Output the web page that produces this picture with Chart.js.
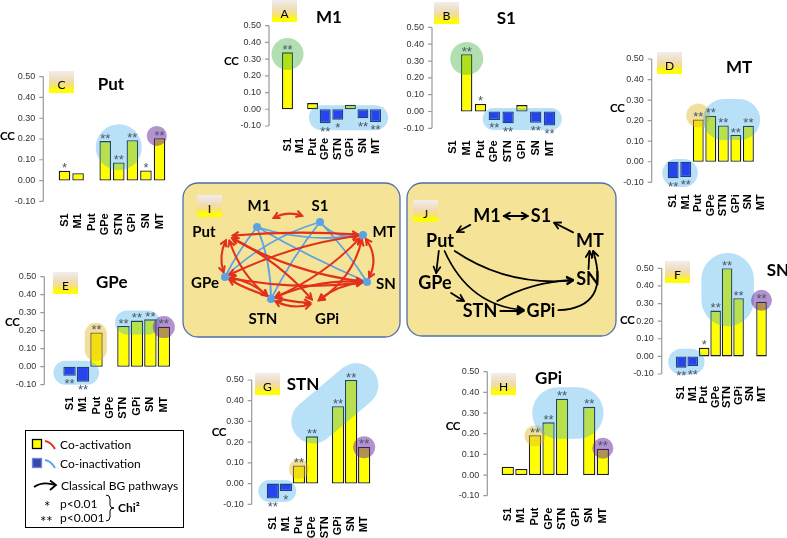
<!DOCTYPE html>
<html>
<head>
<meta charset="utf-8">
<title>Co-activation between BG regions</title>
<script src="https://cdn.jsdelivr.net/npm/chart.js@4.4.1/dist/chart.umd.min.js"></script>
<style>
  body { margin: 0; background: #fff; }
  #fig { position: relative; width: 787px; height: 538px; overflow: hidden; background: #fff;
         font-family: Lato, "Liberation Sans", sans-serif; }
  #fig canvas { position: absolute; left: 0; top: 0; }
  .title { position: absolute; font-weight: bold; font-size: 17px; line-height: 20px; white-space: nowrap; }
  .cc { position: absolute; font-weight: bold; font-size: 11.5px; line-height: 14px; letter-spacing: -0.3px; }
  .tag { position: absolute; width: 25px; height: 22px; font-size: 12px; line-height: 27px; text-align: center;
         background: linear-gradient(#f1eded 0%, #efdcb4 45%, #f9e65c 72%, #ffff00 86%); }
</style>
</head>
<body>
<div id="fig"></div>
<script>
const categories = ['S1', 'M1', 'Put', 'GPe', 'STN', 'GPi', 'SN', 'MT'];
const yTicks = [-0.1, 0, 0.1, 0.2, 0.3, 0.4, 0.5];

// CC of each seed region with the others (null = the seed itself)
const ccM1  = [0.34, null, 0.037, -0.083, -0.062, 0.027, -0.054, -0.076];
const ccS1  = [null, 0.34, 0.045, -0.05, -0.07, 0.038, -0.067, -0.084];
const ccPut = [0.047, 0.035, null, 0.19, 0.087, 0.194, 0.048, 0.204];
const ccMT  = [-0.08, -0.074, 0.206, 0.223, 0.177, 0.13, 0.175, null];
const ccGPe = [-0.05, -0.083, 0.19, null, 0.226, 0.256, 0.263, 0.222];
const ccSN  = [-0.064, -0.055, 0.049, 0.26, 0.50, 0.33, null, 0.31];
const ccSTN = [-0.072, -0.036, 0.087, 0.228, null, 0.373, 0.50, 0.177];
const ccGPi = [0.04, 0.029, 0.193, 0.255, 0.369, null, 0.33, 0.127];

// Chi2 significance: '*' p<0.01, '**' p<0.001
const sigM1  = ['**', '', '', '**', '*', '', '**', '**'];
const sigS1  = ['', '**', '*', '**', '**', '', '**', '**'];
const sigPut = ['*', '', '', '**', '**', '**', '*', '**'];
const sigMT  = ['**', '**', '**', '**', '**', '**', '**', ''];
const sigGPe = ['**', '**', '**', '', '**', '**', '**', '**'];
const sigSN  = ['**', '**', '*', '**', '**', '**', '', '**'];
const sigSTN = ['**', '*', '**', '**', '', '**', '**', '**'];
const sigGPi = ['', '', '**', '**', '**', '', '**', '**'];

// network panels (node positions inside each panel, px)
const netNodes = ['M1', 'S1', 'Put', 'MT', 'GPe', 'SN', 'STN', 'GPi'];
const netILabelX = [76, 137, 21, 201, 22, 203, 80, 144];
const netILabelY = [23, 23, 49, 49, 100, 101, 136, 136];
const netIAnchorX = [74, 137, 45, 180, 42, 184, 88, 132];
const netIAnchorY = [44, 39, 53, 52, 94, 99, 116, 120];
const coInactivation = [['M1', 'GPe', 0.05], ['M1', 'STN', -0.1], ['M1', 'SN', 0.03], ['M1', 'MT', 0.12],
                        ['S1', 'GPe', 0.12], ['S1', 'STN', 0.05], ['S1', 'SN', -0.05], ['S1', 'MT', 0.3]];
const coActivation = [['Put', 'MT', -0.04], ['Put', 'GPe', 0.2], ['Put', 'STN', 0.15], ['Put', 'GPi', -0.1],
                      ['Put', 'SN', 0.1], ['GPe', 'STN', -0.15], ['GPe', 'GPi', 0.12], ['GPe', 'SN', 0.08],
                      ['GPe', 'MT', -0.08], ['STN', 'GPi', 0.2], ['STN', 'SN', -0.12], ['STN', 'MT', 0.1],
                      ['GPi', 'SN', -0.15], ['GPi', 'MT', 0.2], ['SN', 'MT', 0.3]];
const netJLabelX = [80, 134, 33, 183, 28, 181, 73, 134];
const netJLabelY = [33, 33, 58, 58, 100, 96, 128, 128];
const classicalPaths = [['M1', 'S1', 0, 2], ['M1', 'Put', 0, 1], ['MT', 'S1', 0, 1], ['Put', 'GPe', 0, 1],
                        ['Put', 'SN', 0.18, 1], ['Put', 'GPi', 0.3, 1], ['GPe', 'STN', 0, 1], ['STN', 'GPi', 0, 1],
                        ['STN', 'SN', -0.12, 1], ['SN', 'MT', 0, 1], ['GPi', 'MT', 0.65, 1]];

const W = 787, H = 538;
const YELLOW = '#ffff00', BLUE = '#2616f2';
const HL = { blue: 'rgba(40,160,230,0.33)', green: 'rgba(60,175,60,0.4)',
             purple: 'rgba(100,40,160,0.5)', gold: 'rgba(225,185,40,0.45)' };
const fig = document.getElementById('fig');
Chart.defaults.font.family = '"Liberation Sans", Arial, sans-serif';
Chart.defaults.animation = false;

function newCanvas() {
  const c = document.createElement('canvas');
  c.width = W; c.height = H;
  fig.appendChild(c);
  return c;
}
function addDiv(cls, text, left, top) {
  const d = document.createElement('div');
  d.className = cls; d.textContent = text;
  d.style.left = left + 'px'; d.style.top = top + 'px';
  fig.appendChild(d);
}

// layout of the eight bar panels
const panels = [
  { tag: 'A', title: 'M1', values: ccM1, sig: sigM1, axisX: 269, cat: [281.2, 381.8], y: [10, 126], bar: 0.87,
    titleAt: [316, 6.5], ccAt: [224, 54], tagAt: [272, 0],
    marks: [{ c: 'green', r: 16, p: [[0, 0.33]] }, { c: 'blue', r: 12.5, p: [[2.7, -0.05], [7, -0.05]] }] },
  { tag: 'B', title: 'S1', values: ccS1, sig: sigS1, axisX: 432, cat: [446, 556.4], y: [9.3, 128.3], bar: 0.82,
    titleAt: [496.7, 8], ccAt: null, tagAt: [434, 2],
    marks: [{ c: 'green', r: 16.5, p: [[1, 0.315]] }, { c: 'blue', r: 11, p: [[2.95, -0.044], [7.1, -0.044]] }] },
  { tag: 'C', title: 'Put', values: ccPut, sig: sigPut, axisX: 43.3, cat: [57.7, 166.3], y: [76.7, 201.3], bar: 0.85,
    titleAt: [97.7, 74], ccAt: [0, 128.6], tagAt: [49, 71],
    marks: [{ c: 'blue', r: 23, p: [[4, 0.16]] }, { c: 'purple', r: 10, p: [[6.8, 0.215]] }] },
  { tag: 'D', title: 'MT', values: ccMT, sig: sigMT, axisX: 651.7, cat: [666.9, 773.1], y: [59, 182.3], bar: 0.87,
    titleAt: [726, 56.5], ccAt: [610, 100.6], tagAt: [657, 52],
    marks: [{ c: 'blue', r: 14, p: [[0.25, -0.055], [0.85, -0.055]] }, { c: 'gold', r: 12, p: [[2, 0.225]] },
            { c: 'blue', r: 20.5, p: [[4.0, 0.205], [5.3, 0.205]] }] },
  { tag: 'E', title: 'GPe', values: ccGPe, sig: sigGPe, axisX: 44.3, cat: [62.8, 170.6], y: [276.7, 384.7], bar: 0.92,
    titleAt: [96, 272], ccAt: [5, 314.6], tagAt: [53, 272],
    marks: [{ c: 'blue', r: 12, p: [[-0.3, -0.034], [1.3, -0.034]] }, { c: 'gold', r: 11, p: [[1.95, 0.183], [1.95, 0.093]] },
            { c: 'blue', r: 12, p: [[4.27, 0.245], [5.82, 0.245]] }, { c: 'purple', r: 11, p: [[7, 0.22]] }] },
  { tag: 'F', title: 'SN', values: ccSN, sig: sigSN, axisX: 661.7, cat: [675.5, 782.2], y: [268.3, 374], bar: 0.92,
    titleAt: [766.7, 260], ccAt: [620, 312.6], tagAt: [665, 261],
    marks: [{ c: 'blue', r: 13, p: [[0, -0.03], [0.9, -0.03]] }, { c: 'blue', r: 26.3, p: [[4.05, 0.437], [4.05, 0.32]] },
            { c: 'purple', r: 10.5, p: [[7, 0.318]] }] },
  { tag: 'G', title: 'STN', values: ccSTN, sig: sigSTN, axisX: 251.7, cat: [266.3, 370.7], y: [380, 504.3], bar: 0.94,
    titleAt: [286.7, 373.5], ccAt: [211.7, 424.6], tagAt: [255, 373],
    marks: [{ c: 'blue', r: 11, p: [[-0.27, -0.036], [0.95, -0.036]] }, { c: 'gold', r: 10, p: [[2, 0.07]] },
            { c: 'blue', r: 22, p: [[3.1, 0.30], [6.4, 0.475]] }, { c: 'purple', r: 11, p: [[7, 0.175]] }] },
  { tag: 'H', title: 'GPi', values: ccGPi, sig: sigGPi, axisX: 487.3, cat: [501, 609.6], y: [371.7, 495.7], bar: 0.9,
    titleAt: [535, 367.5], ccAt: [445.7, 418.6], tagAt: [491, 373],
    marks: [{ c: 'gold', r: 10.5, p: [[2, 0.19]] }, { c: 'blue', r: 25.8, p: [[3.7, 0.30], [5.15, 0.30]] },
            { c: 'purple', r: 10.5, p: [[7, 0.13]] }] }
];

function barPanel(p) {
  // the label band is clipped to the scale box, so give it all the room below
  const xH = Math.min(48, H - p.y[1]);
  new Chart(newCanvas(), {
    type: 'bar',
    data: {
      labels: categories,
      datasets: [{
        data: p.values,
        backgroundColor: ctx => ctx.raw < 0 ? BLUE : YELLOW,
        borderColor: ctx => ctx.raw < 0 ? '#16164a' : '#1a1a1a',
        borderWidth: 1.3,
        borderSkipped: false,
        barPercentage: p.bar,
        categoryPercentage: 1
      }]
    },
    options: {
      responsive: false,
      devicePixelRatio: 1,
      layout: { padding: { left: 0, top: p.y[0], right: W - p.cat[1], bottom: H - p.y[1] - xH } },
      scales: {
        x: {
          grid: { display: false, drawTicks: false },
          border: { display: false },
          ticks: { autoSkip: false, maxRotation: 90, minRotation: 90, padding: 12, color: '#000',
                   font: { size: 11, weight: 'bold' } },
          afterFit: s => { s.height = xH; }
        },
        y: {
          min: -0.1, max: 0.5,
          afterBuildTicks: s => { s.ticks = yTicks.map(v => ({ value: v })); },
          grid: { display: false, drawTicks: false },
          border: { display: false },
          ticks: { padding: p.cat[0] - p.axisX + 8, color: '#333', font: { size: 9 },
                   callback: v => Math.abs(v) < 1e-9 ? '0.00' : v.toFixed(2) },
          afterFit: s => { s.width = p.cat[0]; }
        }
      },
      plugins: { legend: { display: false }, tooltip: { enabled: false } }
    },
    plugins: [{
      id: 'decor',
      afterDatasetsDraw(chart) {
        const { ctx, scales: { x, y } } = chart;
        ctx.save();
        // value axis sits left of the first bar, with outward tick marks
        ctx.strokeStyle = '#9a9a9a';
        ctx.lineWidth = 1.2;
        ctx.beginPath();
        ctx.moveTo(p.axisX, y.getPixelForValue(0.5));
        ctx.lineTo(p.axisX, y.getPixelForValue(-0.1));
        yTicks.forEach(v => {
          const py = y.getPixelForValue(v);
          ctx.moveTo(p.axisX - 4, py); ctx.lineTo(p.axisX, py);
        });
        ctx.stroke();

        // coloured highlight blobs
        p.marks.forEach(m => {
          const pts = m.p.map(([i, v]) => [x.getPixelForValue(i), y.getPixelForValue(v)]);
          ctx.fillStyle = ctx.strokeStyle = HL[m.c];
          if (pts.length === 1) {
            ctx.beginPath();
            ctx.arc(pts[0][0], pts[0][1], m.r, 0, Math.PI * 2);
            ctx.fill();
          } else {
            ctx.lineWidth = m.r * 2;
            ctx.lineCap = 'round';
            ctx.beginPath();
            ctx.moveTo(pts[0][0], pts[0][1]);
            ctx.lineTo(pts[1][0], pts[1][1]);
            ctx.stroke();
          }
        });

        // significance stars
        ctx.fillStyle = '#4b5566';
        ctx.font = '13px "Liberation Sans", Arial';
        ctx.textAlign = 'center';
        ctx.textBaseline = 'alphabetic';
        chart.getDatasetMeta(0).data.forEach((bar, i) => {
          const v = p.values[i], s = p.sig[i];
          if (!s || v === null) return;
          ctx.fillText(s, bar.x, v >= 0 ? bar.y + 1.5 : bar.y + 12.5);
        });
        ctx.restore();
      }
    }]
  });
  addDiv('title', p.title, p.titleAt[0], p.titleAt[1]);
  if (p.ccAt) addDiv('cc', 'CC', p.ccAt[0], p.ccAt[1]);
  addDiv('tag', p.tag, p.tagAt[0], p.tagAt[1]);
}

// helpers for the network diagrams
function moveToward(a, b, d) {
  const dx = b[0] - a[0], dy = b[1] - a[1], L = Math.hypot(dx, dy) || 1;
  return [a[0] + dx / L * d, a[1] + dy / L * d];
}
function clipToBox(a, b, hw, hh) {
  const dx = b[0] - a[0], dy = b[1] - a[1];
  const t = Math.min(dx ? hw / Math.abs(dx) : Infinity, dy ? hh / Math.abs(dy) : Infinity);
  return [a[0] + dx * t, a[1] + dy * t];
}
function ctrlPoint(a, b, bend) {
  return [(a[0] + b[0]) / 2 - (b[1] - a[1]) * bend, (a[1] + b[1]) / 2 + (b[0] - a[0]) * bend];
}
function arrowHead(ctx, p, ang, size) {
  ctx.beginPath();
  ctx.moveTo(p[0] - size * Math.cos(ang - 0.5), p[1] - size * Math.sin(ang - 0.5));
  ctx.lineTo(p[0], p[1]);
  ctx.lineTo(p[0] - size * Math.cos(ang + 0.5), p[1] - size * Math.sin(ang + 0.5));
  ctx.stroke();
}
function drawCurve(ctx, s, c, e, headS, headE, size) {
  ctx.beginPath();
  ctx.moveTo(s[0], s[1]);
  ctx.quadraticCurveTo(c[0], c[1], e[0], e[1]);
  ctx.stroke();
  if (headS) arrowHead(ctx, s, Math.atan2(s[1] - c[1], s[0] - c[0]), size);
  if (headE) arrowHead(ctx, e, Math.atan2(e[1] - c[1], e[0] - c[0]), size);
}
function panelBox(ctx, area) {
  ctx.save();
  ctx.beginPath();
  ctx.roundRect(area.left, area.top, area.right - area.left, area.bottom - area.top, 15);
  ctx.fillStyle = '#f5e497';
  ctx.fill();
  ctx.strokeStyle = '#4f6fa8';
  ctx.lineWidth = 1.3;
  ctx.stroke();
  ctx.restore();
}

function networkChart(box, dots, drawEdges, labelX, labelY, font) {
  new Chart(newCanvas(), {
    type: 'scatter',
    data: { datasets: [{ data: dots, pointRadius: 4, pointBackgroundColor: '#5ba3e6', pointBorderWidth: 0 }] },
    options: {
      responsive: false,
      devicePixelRatio: 1,
      layout: { padding: { left: box[0], top: box[1], right: W - box[0] - box[2], bottom: H - box[1] - box[3] } },
      scales: {
        x: { display: false, min: 0, max: box[2] },
        y: { display: false, min: 0, max: box[3], reverse: true }
      },
      plugins: { legend: { display: false }, tooltip: { enabled: false } }
    },
    plugins: [{
      id: 'net',
      beforeDatasetsDraw(chart) {
        panelBox(chart.ctx, chart.chartArea);
        drawEdges(chart);
      },
      afterDatasetsDraw(chart) {
        const { ctx, scales: { x, y } } = chart;
        ctx.save();
        ctx.font = font;
        ctx.fillStyle = '#000';
        ctx.textAlign = 'center';
        ctx.textBaseline = 'middle';
        netNodes.forEach((n, i) => ctx.fillText(n, x.getPixelForValue(labelX[i]), y.getPixelForValue(labelY[i])));
        ctx.restore();
      }
    }]
  });
}

panels.forEach(barPanel);

// panel I: co-activation (red) and co-inactivation (blue) network
const inactiveNodes = ['M1', 'S1', 'MT', 'GPe', 'SN', 'STN'];
networkChart([183, 183, 217, 154],
  inactiveNodes.map(n => ({ x: netIAnchorX[netNodes.indexOf(n)], y: netIAnchorY[netNodes.indexOf(n)] })),
  chart => {
    const { ctx, scales: { x, y } } = chart;
    const P = n => { const i = netNodes.indexOf(n); return [x.getPixelForValue(netIAnchorX[i]), y.getPixelForValue(netIAnchorY[i])]; };
    ctx.save();
    ctx.lineCap = 'round';
    ctx.strokeStyle = '#5ba3e6';
    ctx.lineWidth = 1.8;
    coInactivation.forEach(([a, b, bend]) => {
      const pa = P(a), pb = P(b);
      drawCurve(ctx, pa, ctrlPoint(pa, pb, bend), pb, false, false, 0);
    });
    ctx.strokeStyle = '#e2301c';
    ctx.lineWidth = 2.1;
    // M1 <-> S1 short arc above the dots
    {
      const pa = P('M1'), pb = P('S1'), c = ctrlPoint(pa, pb, -0.22);
      drawCurve(ctx, moveToward(pa, c, 19), c, moveToward(pb, c, 19), true, true, 6);
    }
    coActivation.forEach(([a, b, bend]) => {
      const pa = P(a), pb = P(b), c = ctrlPoint(pa, pb, bend);
      drawCurve(ctx, moveToward(pa, c, 5), c, moveToward(pb, c, 5), true, true, 6);
    });
    ctx.restore();
  },
  netILabelX, netILabelY, 'bold 15px Lato, sans-serif');

// panel J: classical BG pathways
networkChart([407, 183, 209, 153], [],
  chart => {
    const { ctx, scales: { x, y } } = chart;
    ctx.save();
    ctx.font = 'bold 18px Lato, sans-serif';
    const P = n => { const i = netNodes.indexOf(n); return [x.getPixelForValue(netJLabelX[i]), y.getPixelForValue(netJLabelY[i])]; };
    const half = n => ctx.measureText(n).width / 2 + 3;
    ctx.strokeStyle = '#000';
    ctx.lineWidth = 1.8;
    ctx.lineCap = 'round';
    ctx.lineJoin = 'round';
    classicalPaths.forEach(([a, b, bend, heads]) => {
      const pa = P(a), pb = P(b), c = ctrlPoint(pa, pb, bend);
      const s = clipToBox(pa, c, half(a), 10), e = clipToBox(pb, c, half(b), 10);
      drawCurve(ctx, s, c, e, heads === 2, true, 7);
    });
    ctx.restore();
  },
  netJLabelX, netJLabelY, 'bold 18px Lato, sans-serif');

addDiv('tag', 'I', 197, 195);
addDiv('tag', 'J', 413, 200);
</script>
<svg id="legend" width="160" height="99" viewBox="0 0 160 99" font-family="Lato, sans-serif" font-size="12"
     style="position:absolute; left:25px; top:430px;">
  <rect x="0.5" y="0.5" width="158" height="97" fill="#fff" stroke="#000" stroke-width="1"/>
  <rect x="7.5" y="9.5" width="9" height="9" fill="#ffff00" stroke="#000" stroke-width="1.3"/>
  <path d="M20,11 Q26,12 30,19" fill="none" stroke="#e2301c" stroke-width="2"/>
  <text x="35" y="19">Co-activation</text>
  <rect x="7.5" y="28.5" width="9" height="9" fill="#3a46a8" stroke="#6a86e0" stroke-width="1.3"/>
  <path d="M20,30 Q26,31 30,38" fill="none" stroke="#5ba3e6" stroke-width="2"/>
  <text x="35" y="38">Co-inactivation</text>
  <path d="M9,57 Q18,51 30,55" fill="none" stroke="#000" stroke-width="1.8"/>
  <path d="M25,50.5 L31,55 L25,60" fill="none" stroke="#000" stroke-width="1.8"/>
  <text x="36" y="60">Classical BG pathways</text>
  <text x="19" y="82" font-size="15">*</text>
  <text x="35" y="78">p&lt;0.01</text>
  <text x="15" y="97" font-size="15">**</text>
  <text x="35" y="92">p&lt;0.001</text>
  <path d="M81,65 q4,0 4,4 v6 q0,3 4,3 q-4,0 -4,3 v6 q0,4 -4,4" fill="none" stroke="#000" stroke-width="1"/>
  <text x="93" y="82" font-weight="bold">Chi²</text>
</svg>
</body>
</html>
